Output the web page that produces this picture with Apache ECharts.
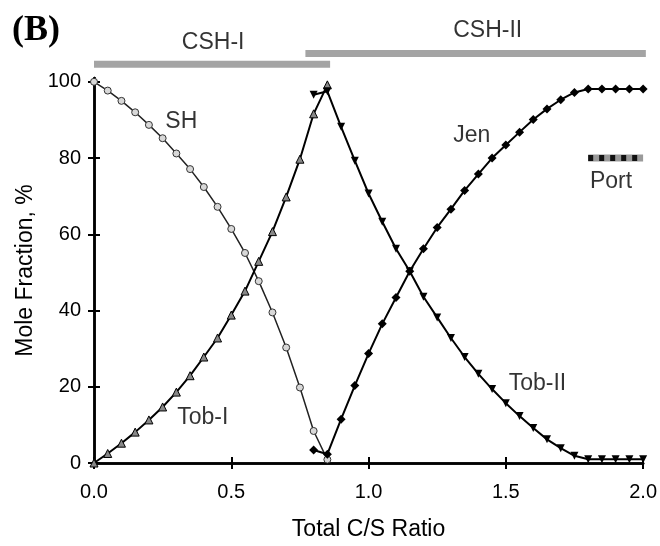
<!DOCTYPE html>
<html>
<head>
<meta charset="utf-8">
<script src="https://cdn.jsdelivr.net/npm/echarts@6/dist/echarts.min.js"></script>
<style>
html,body{margin:0;padding:0;background:#fff;}
#chart{width:660px;height:546px;}
</style>
</head>
<body>
<div id="chart"></div>
<script>
// x positions (Total C/S ratio)
var xEarly = [0,0.05,0.10,0.15,0.20,0.25,0.30,0.35,0.40,0.45,0.50,0.55,0.60,0.65,0.70,0.75,0.80,0.85];
var xLate  = [0.80,0.85,0.90,0.95,1.00,1.05,1.10,1.15,1.20,1.25,1.30,1.35,1.40,1.45,1.50,1.55,1.60,1.65,1.70,1.75,1.80,1.85,1.90,1.95,2.00];
// mole fractions, %
var shValues   = [100,97.7,95.0,92.0,88.7,85.2,81.2,77.1,72.4,67.2,61.4,55.1,47.7,39.5,30.3,19.8,8.4,0.9];
var tob1Values = [0,2.5,5.2,8.1,11.3,14.7,18.6,22.9,27.8,32.8,38.8,45.1,52.9,60.7,69.8,79.7,91.6,99.2];
var tob2Values = [96.6,97.5,88.2,79.3,70.7,63.3,56.2,50.3,43.6,38.2,32.8,27.8,23.4,19.4,15.7,12.3,9.2,6.2,3.9,1.9,1.0,1.0,1.0,1.0,1.0];
var jenValues  = [3.4,2.3,11.5,20.3,28.7,36.5,43.4,50.3,56.2,61.8,66.6,71.5,75.8,80.0,83.4,86.8,90.1,92.9,95.3,97.2,98.1,98.1,98.1,98.1,98.1];
var portX = [1.80, 2.00];
var portValues = [80, 80];
// phase ranges (C/S)
var cshIRange  = [0, 0.86];
var cshIIRange = [0.77, 2.01];
// tick values
var yTicks = [0,20,40,60,80,100];
var xTicks = [0,0.5,1.0,1.5,2.0];
// curve labels: [name, x, y]
var curveLabels = [
  ['SH', 0.318, 89.6],
  ['Tob-I', 0.396, 12.0],
  ['Jen', 1.376, 86.0],
  ['Tob-II', 1.615, 20.7],
  ['Port', 1.883, 73.9],
  ['CSH-I', 0.434, 110.4],
  ['CSH-II', 1.434, 113.5]
];

var FONT = 'Liberation Sans, Arial, sans-serif';
var CSH_I_LEVEL = 104.6, CSH_II_LEVEL = 107.4;

function pairs(xs, ys){ return xs.map(function(x,i){ return [x, ys[i]]; }); }

var chart = echarts.init(document.getElementById('chart'), null, {renderer:'canvas'});

var axisLine = {show:true, lineStyle:{color:'#000', width:2.5}};
var tick = {show:true, inside:false, length:6, lineStyle:{color:'#000', width:2}};

var option = {
  animation:false,
  backgroundColor:'#fff',
  grid:{left:94, right:16, top:78, bottom:79},
  graphic:[{
    type:'text', left:12, top:13,
    style:{text:'(B)', font:'bold 36px "Liberation Serif", "Times New Roman", serif', fill:'#000'}
  }],
  xAxis:[{
    type:'value', position:'bottom', min:0, max:2, interval:0.5,
    axisLine:axisLine, axisTick:tick, splitLine:{show:false},
    axisLabel:{color:'#000', fontFamily:FONT, fontSize:20, margin:19,
      formatter:function(v){return v.toFixed(1);}},
    name:'Total C/S Ratio', nameLocation:'middle', nameGap:55,
    nameTextStyle:{color:'#000', fontFamily:FONT, fontSize:23}
  },{
    type:'value', position:'top', min:0, max:2, interval:0.5,
    axisLine:axisLine, axisTick:tick, axisLabel:{show:false}, splitLine:{show:false}
  }],
  yAxis:[{
    type:'value', position:'left', min:0, max:101,
    axisLine:axisLine,
    axisTick:{show:true, inside:false, length:6, lineStyle:{color:'#000', width:2}, customValues:yTicks},
    splitLine:{show:false},
    axisLabel:{color:'#000', fontFamily:FONT, fontSize:20, margin:13, customValues:yTicks},
    name:'Mole Fraction, %', nameLocation:'middle', nameGap:57,
    nameTextStyle:{color:'#000', fontFamily:FONT, fontSize:23}
  },{
    type:'value', position:'right', min:0, max:101,
    axisLine:axisLine,
    axisTick:{show:true, inside:false, length:6, lineStyle:{color:'#000', width:2}, customValues:yTicks},
    axisLabel:{show:false}, splitLine:{show:false}
  }],
  series:[
    {type:'line', name:'CSH-I bar', clip:false, symbol:'none', silent:true,
     data:[[cshIRange[0], CSH_I_LEVEL],[cshIRange[1], CSH_I_LEVEL]],
     lineStyle:{color:'#a4a4a4', width:7, cap:'butt'}},
    {type:'line', name:'CSH-II bar', clip:false, symbol:'none', silent:true,
     data:[[cshIIRange[0], CSH_II_LEVEL],[cshIIRange[1], CSH_II_LEVEL]],
     lineStyle:{color:'#a4a4a4', width:7, cap:'butt'}},
    {type:'line', name:'SH', data:pairs(xEarly, shValues), showAllSymbol:true,
     symbol:'circle', symbolSize:7,
     itemStyle:{color:'#d8d8d8', borderColor:'#333', borderWidth:1},
     lineStyle:{color:'#222', width:1.5}, z:3},
    {type:'line', name:'Tob-I', data:pairs(xEarly, tob1Values), showAllSymbol:true,
     symbol:'triangle', symbolSize:8,
     itemStyle:{color:'#888', borderColor:'#000', borderWidth:1},
     lineStyle:{color:'#000', width:2}, z:4},
    {type:'line', name:'Tob-II', data:pairs(xLate, tob2Values), showAllSymbol:true,
     symbol:'triangle', symbolRotate:180, symbolSize:8,
     itemStyle:{color:'#000'},
     lineStyle:{color:'#000', width:2}, z:4},
    {type:'line', name:'Jen', data:pairs(xLate, jenValues), showAllSymbol:true,
     symbol:'diamond', symbolSize:9,
     itemStyle:{color:'#000'},
     lineStyle:{color:'#000', width:2}, z:4},
    {type:'line', name:'Port', data:pairs(portX, portValues), symbol:'none', clip:false,
     lineStyle:{color:'#9a9a9a', width:7, cap:'butt'}, z:5},
    {type:'line', name:'Port dots', data:pairs(portX, portValues), symbol:'none', clip:false,
     lineStyle:{color:'#111', width:6, type:[5,6], cap:'butt'}, z:6},
    {type:'scatter', name:'labels', clip:false, symbolSize:0, silent:true,
     data:curveLabels.map(function(d){ return {name:d[0], value:[d[1], d[2]]}; }),
     label:{show:true, position:'inside', formatter:'{b}', color:'#000',
       fontFamily:FONT, fontSize:23}, z:10}
  ]
};
chart.setOption(option);
</script>
</body>
</html>
